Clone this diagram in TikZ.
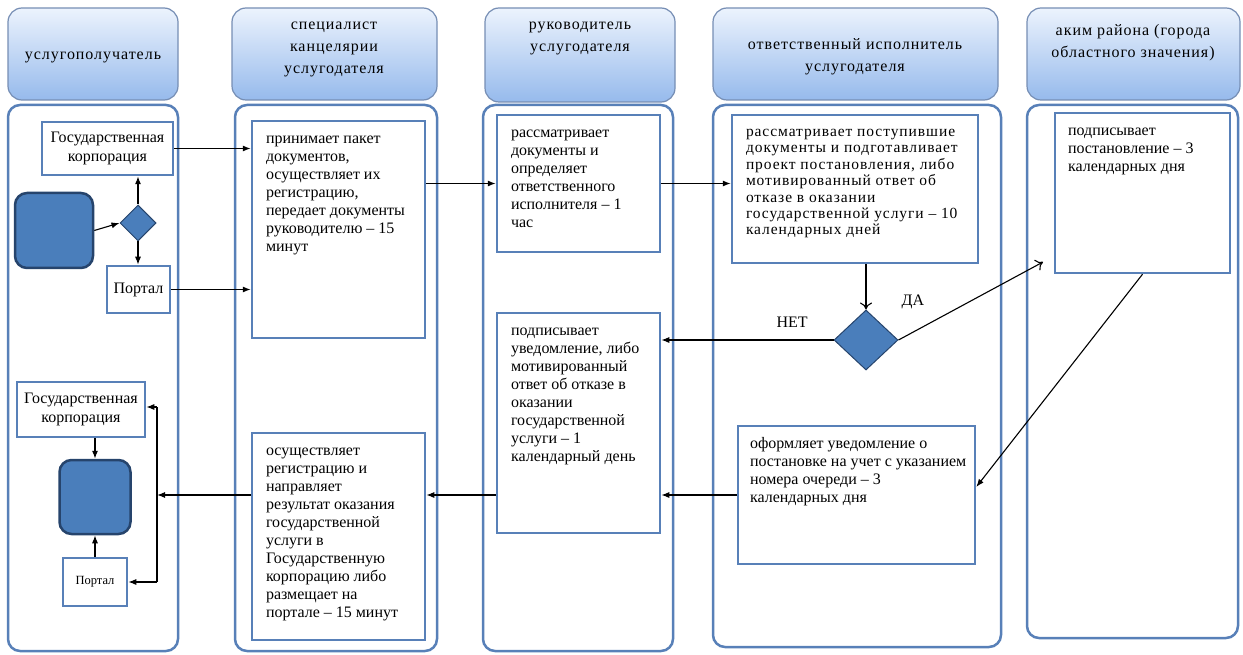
\documentclass[tikz,border=0pt]{standalone}
\usepackage{fontspec}
\setmainfont{Liberation Serif}
\usetikzlibrary{shapes.geometric,arrows.meta}
\definecolor{laneblue}{RGB}{88,128,184}
\definecolor{headtop}{RGB}{236,243,253}
\definecolor{headbot}{RGB}{150,186,236}
\definecolor{headline}{RGB}{118,142,180}
\definecolor{termfill}{RGB}{74,126,187}
\definecolor{termline}{RGB}{38,68,108}
\newcommand{\boxtxt}[3]{\parbox[c][#2][t]{#1}{\begin{tabular}[t]{@{}l@{}}#3\end{tabular}}}
\tikzset{
  lane/.style={draw=laneblue,line width=2.5pt,fill=white,rounded corners=12pt},
  head/.style={draw=headline,line width=1.2pt,top color=headtop,bottom color=headbot,rounded corners=14pt},
  headtext/.style={align=center,font=\fontsize{16}{22}\selectfont\addfontfeatures{LetterSpace=6}},
  stepbox/.style={draw=laneblue,line width=2.5pt,fill=white,inner xsep=14pt,inner ysep=10pt,font=\fontsize{16}{18}\selectfont},
  namebox/.style={draw=laneblue,line width=2.5pt,fill=white,inner sep=0pt,align=center,font=\fontsize{16}{19}\selectfont},
  term/.style={draw=termline,line width=2.5pt,fill=termfill,rounded corners=12pt,inner sep=0pt},
  choice/.style={diamond,draw=termline,line width=1pt,fill=termfill,inner sep=0pt},
  arr/.style={-{Latex[length=8pt,width=6pt]},line width=1.1pt},
  arrop/.style={-{To[length=7pt,width=12pt]},line width=1.1pt}
}
\begin{document}
\begin{tikzpicture}[x=1pt,y=-1pt]
\useasboundingbox (0,0) rectangle (1243,655);
\shade[head] (8,8) rectangle (178,100);
\shade[head] (232,8) rectangle (437,100);
\shade[head] (485,8) rectangle (675,102);
\shade[head] (713,8) rectangle (998,100);
\shade[head] (1027,8) rectangle (1240,100);
\node[headtext] (hd1) at (93,57) {услугополучатель};
\node[headtext] (hd2) at (334,49) {специалист\\канцелярии\\услугодателя};
\node[headtext] (hd3) at (580,38) {руководитель\\услугодателя};
\node[headtext] (hd4) at (855,57) {ответственный исполнитель\\услугодателя};
\node[headtext] (hd5) at (1133,43) {аким района (города\\областного значения)};
\draw[lane] (8,105) rectangle (178,651);
\draw[lane] (235,105) rectangle (437,651);
\draw[lane] (483,105) rectangle (673,651);
\draw[lane] (713,105) rectangle (1001,647);
\draw[lane] (1027,105) rectangle (1238,638);
\node[namebox,minimum width=131pt,minimum height=53pt] (gk1) at (107.5,148.5) {Государственная\\корпорация};
\node[term,minimum width=78pt,minimum height=75pt] (start) at (54,230.5) {};
\node[choice,minimum width=36pt,minimum height=36pt] (dia1) at (138,223) {};
\node[namebox,minimum width=63pt,minimum height=47pt] (portal1) at (138.5,289.5) {Портал};
\node[namebox,minimum width=128pt,minimum height=55pt] (gk2) at (81,409.5) {Государственная\\корпорация};
\node[term,minimum width=71pt,minimum height=74pt] (finish) at (95,497) {};
\node[namebox,minimum width=64pt,minimum height=48pt,font=\fontsize{12.5}{14}\selectfont] (portal2) at (95,582) {Портал};
\node[stepbox] (s1) at (338.5,229.5) {\boxtxt{145pt}{197pt}{принимает пакет\\документов,\\осуществляет их\\регистрацию,\\передает документы\\руководителю – 15\\минут}};
\node[stepbox] (s2) at (338.5,536.5) {\boxtxt{145pt}{187pt}{осуществляет\\регистрацию и\\направляет\\результат оказания\\государственной\\услуги в\\Государственную\\корпорацию либо\\размещает на\\портале – 15 минут}};
\node[stepbox] (r1) at (578.5,183.5) {\boxtxt{135pt}{117pt}{рассматривает\\документы и\\определяет\\ответственного\\исполнителя – 1\\час}};
\node[stepbox] (r2) at (578.5,423) {\boxtxt{135pt}{200pt}{подписывает\\уведомление, либо\\мотивированный\\ответ об отказе в\\оказании\\государственной\\услуги – 1\\календарный день}};
\node[stepbox,font=\fontsize{15.5}{16.4}\selectfont\addfontfeatures{LetterSpace=6}] (o1) at (855,189) {\boxtxt{218pt}{128pt}{рассматривает поступившие\\документы и подготавливает\\проект постановления, либо\\мотивированный ответ об\\отказе в оказании\\государственной услуги – 10\\календарных дней}};
\node[choice,minimum width=64pt,minimum height=60pt] (dia2) at (866,340) {};
\node[stepbox,inner xsep=12pt] (o2) at (856.5,495) {\boxtxt{213pt}{118pt}{оформляет уведомление о\\постановке на учет с указанием\\номера очереди – 3\\календарных дня}};
\node[stepbox,inner xsep=13pt] (a1) at (1142.5,193) {\boxtxt{149pt}{140pt}{подписывает\\постановление – 3\\календарных дня}};
\coordinate (daend) at (1043,262);
\coordinate (bt) at (157,407);
\coordinate (bb) at (157,582);
\draw[arr] (start.east) -- (dia1.west);
\draw[arr] (dia1.north) -- (gk1.south -| dia1.north);
\draw[arr] (dia1.south) -- (portal1.north -| dia1.south);
\draw[arr] (gk1.east) -- (gk1.east -| s1.west);
\draw[arr] (portal1.east) -- (portal1.east -| s1.west);
\draw[arr] (s1.east |- r1.west) -- (r1.west);
\draw[arr] (r1.east) -- (r1.east -| o1.west);
\draw[arrop] (o1.south -| dia2.north) -- (dia2.north);
\draw[arr] (dia2.west) -- node[pos=0.24,above=9pt] {\fontsize{16}{18}\selectfont НЕТ} (dia2.west -| r2.east);
\draw[arrop] (dia2.east) -- node[pos=0.1,above=19pt] {\fontsize{16}{18}\selectfont ДА} (daend);
\draw[arr] (a1.south) -- ([yshift=8pt]o2.east);
\draw[arr] (o2.west) -- (o2.west -| r2.east);
\draw[arr] (r2.west |- o2.west) -- (s2.east |- o2.west);
\draw[arr] (s2.west |- o2.west) -- (bt |- o2.west);
\draw[line width=1.1pt] (bt) -- (bb);
\draw[arr] (bt) -- (bt -| gk2.east);
\draw[arr] (bb) -- (bb -| portal2.east);
\draw[arr] (gk2.south -| finish.north) -- (finish.north);
\draw[arr] (portal2.north) -- (finish.south);
\end{tikzpicture}
\end{document}
